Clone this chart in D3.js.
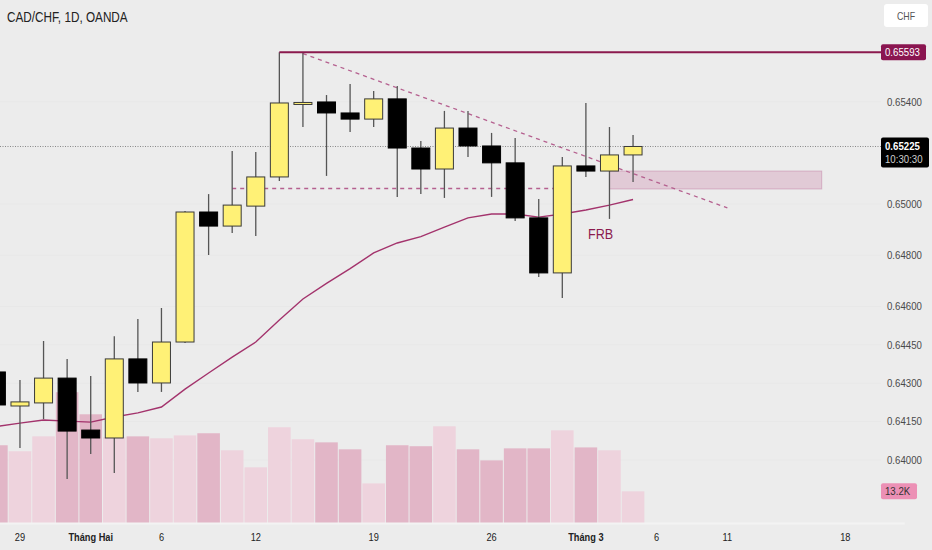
<!DOCTYPE html>
<html>
<head>
<meta charset="utf-8">
<script src="https://cdn.jsdelivr.net/npm/d3@7"></script>
<style>
  html, body { margin: 0; padding: 0; background: #ececec; }
  svg { display: block; font-family: "Liberation Sans", Arial, sans-serif; }
</style>
</head>
<body>
<svg id="chart"></svg>
<script>
const width = 932;
const height = 550;

// trading days shown (Jan 26 -> Mar 5, 2024)
const dates = [
  "2024-01-26", "2024-01-29", "2024-01-30", "2024-01-31", "2024-02-01", "2024-02-02",
  "2024-02-05", "2024-02-06", "2024-02-07", "2024-02-08", "2024-02-09",
  "2024-02-12", "2024-02-13", "2024-02-14", "2024-02-15", "2024-02-16",
  "2024-02-19", "2024-02-20", "2024-02-21", "2024-02-22", "2024-02-23",
  "2024-02-26", "2024-02-27", "2024-02-28", "2024-02-29", "2024-03-01",
  "2024-03-04", "2024-03-05"
];
// empty space to the right of the last bar
const futureDates = [
  "2024-03-06", "2024-03-07", "2024-03-08", "2024-03-11", "2024-03-12", "2024-03-13",
  "2024-03-14", "2024-03-15", "2024-03-18", "2024-03-19", "2024-03-20"
];

const opens  = [0.64344, 0.64211, 0.64223, 0.64320, 0.64117, 0.64086, 0.64395, 0.64301, 0.64461, 0.64969, 0.64914,
                0.64992, 0.65106, 0.65393, 0.65399, 0.65356, 0.65332, 0.65411, 0.65219, 0.65137, 0.65297,
                0.65227, 0.65161, 0.64946, 0.64731, 0.65149, 0.65129, 0.65192];
const highs  = [0.64383, 0.64313, 0.64465, 0.64395, 0.64328, 0.64484, 0.64551, 0.64594, 0.64973, 0.65039, 0.65207,
                0.65203, 0.65593, 0.65593, 0.65426, 0.65469, 0.65442, 0.65461, 0.65246, 0.65364, 0.65364,
                0.65278, 0.65258, 0.65020, 0.65184, 0.65395, 0.65301, 0.65270];
const lows   = [0.64187, 0.64047, 0.64160, 0.63926, 0.64023, 0.63949, 0.64266, 0.64266, 0.64457, 0.64801, 0.64887,
                0.64875, 0.65090, 0.65301, 0.65110, 0.65282, 0.65301, 0.65028, 0.65039, 0.65024, 0.65184,
                0.65028, 0.64934, 0.64715, 0.64633, 0.65106, 0.64942, 0.65086];
const closes = [0.64215, 0.64227, 0.64320, 0.64113, 0.64086, 0.64395, 0.64301, 0.64461, 0.64969, 0.64914, 0.64996,
                0.65106, 0.65395, 0.65397, 0.65356, 0.65332, 0.65411, 0.65219, 0.65137, 0.65297, 0.65227,
                0.65161, 0.64946, 0.64731, 0.65149, 0.65129, 0.65192, 0.65225];
// volume in thousands
const volumes = [32.4, 29.9, 36.1, 54.5, 45.3, 35.7, 36.1, 35.3, 36.5, 37.4, 30.3,
                 23.2, 39.9, 34.9, 33.6, 30.7, 16.5, 32.4, 32.0, 40.3, 30.7,
                 26.1, 31.1, 31.1, 38.6, 31.5, 30.3, 13.2];
// moving average line
const maValues = [0.64131, 0.64144, 0.64156, 0.64152, 0.64148, 0.64168, 0.64184, 0.64207, 0.64277, 0.64340, 0.64402,
                  0.64461, 0.64547, 0.64629, 0.64690, 0.64748, 0.64809, 0.64848, 0.64873, 0.64910, 0.64946,
                  0.64961, 0.64961, 0.64949, 0.64961, 0.64977, 0.64996, 0.65018];

const priceTicks = [0.654, 0.650, 0.648, 0.646, 0.6445, 0.643, 0.6415, 0.640];
const tickDates  = ["2024-01-29", "2024-02-01", "2024-02-06", "2024-02-12", "2024-02-19",
                    "2024-02-26", "2024-03-01", "2024-03-06", "2024-03-11", "2024-03-18"];
const tickLabels = ["29", "Tháng Hai", "6", "12", "19", "26", "Tháng 3", "6", "11", "18"];
const monthTicks = ["Tháng Hai", "Tháng 3"];

const resistance = 0.65593;
const lastPrice = 0.65225;
const lastTime = "10:30:30";
const lastVolume = "13.2K";
const supportLevel = 0.65061;
const trendStart = { date: "2024-02-14", price: 0.65588 };
const trendEnd   = { date: "2024-03-11", price: 0.64985 };
const zone = { from: "2024-03-04", to: "2024-03-15", top: 0.65129, bottom: 0.65059 };

const candles = dates.map((d, i) => ({
  date: d, open: opens[i], high: highs[i], low: lows[i], close: closes[i],
  volume: volumes[i], ma: maValues[i]
}));

const plotRight = 881;
const plotBottom = 523;
const narrow = 0.84; // the reference text is a narrow face

const svg = d3.select("#chart")
    .attr("width", width)
    .attr("height", height);

svg.append("rect").attr("width", width).attr("height", height).attr("fill", "#ececec");

const x = d3.scaleBand()
    .domain(dates.concat(futureDates))
    .range([-15.4, -15.4 + 23.58 * (dates.length + futureDates.length)])
    .paddingInner(0);
const cx = d => x(d) + x.bandwidth() / 2;

const y = d3.scaleLinear().domain([0.640, 0.654]).range([460, 101.7]);
const yVol = d3.scaleLinear().domain([0, 60]).range([plotBottom, plotBottom - 144]);

// text squeezed horizontally around its anchor point
function label(px, py, str, size, fill, anchor) {
  return svg.append("text")
      .attr("transform", `translate(${px},${py}) scale(${narrow},1)`)
      .attr("text-anchor", anchor || "start")
      .attr("font-size", size)
      .attr("fill", fill)
      .text(str);
}

svg.append("defs").append("clipPath").attr("id", "plot")
  .append("rect").attr("x", 0).attr("y", 0).attr("width", plotRight).attr("height", plotBottom);

// faint grid
svg.append("g")
  .selectAll("line")
  .data(priceTicks)
  .enter().append("line")
    .attr("x1", 0).attr("x2", plotRight)
    .attr("y1", d => y(d)).attr("y2", d => y(d))
    .attr("stroke", "#e8e8e8").attr("stroke-width", 1);

const plot = svg.append("g").attr("clip-path", "url(#plot)");

// volume
plot.append("g")
  .selectAll("rect")
  .data(candles)
  .enter().append("rect")
    .attr("x", d => x(d.date) + 0.5)
    .attr("width", x.bandwidth() - 1)
    .attr("y", d => yVol(d.volume))
    .attr("height", d => plotBottom - yVol(d.volume))
    .attr("fill", d => d.close >= d.open ? "#eed3dd" : "#e2b6c7");

// supply/demand zone
plot.append("rect")
    .attr("x", cx(zone.from))
    .attr("width", cx(zone.to) - cx(zone.from))
    .attr("y", y(zone.top))
    .attr("height", y(zone.bottom) - y(zone.top))
    .attr("fill", "rgba(205,140,175,0.35)")
    .attr("stroke", "rgba(190,120,160,0.45)");

// dashed level
plot.append("line")
    .attr("x1", cx("2024-02-09")).attr("x2", cx("2024-02-29"))
    .attr("y1", y(supportLevel)).attr("y2", y(supportLevel))
    .attr("stroke", "#b5608f").attr("stroke-width", 1.5)
    .attr("stroke-dasharray", "4,4");

// dashed trend line
plot.append("line")
    .attr("x1", cx(trendStart.date)).attr("y1", y(trendStart.price))
    .attr("x2", cx(trendEnd.date)).attr("y2", y(trendEnd.price))
    .attr("stroke", "#b5608f").attr("stroke-width", 1.3)
    .attr("stroke-dasharray", "4,4");

// last price dotted line
plot.append("line")
    .attr("x1", 0).attr("x2", plotRight)
    .attr("y1", y(lastPrice)).attr("y2", y(lastPrice))
    .attr("stroke", "#888").attr("stroke-width", 1)
    .attr("stroke-dasharray", "1,1.5");

// moving average
const maLine = d3.line().x(d => cx(d.date)).y(d => y(d.ma));
plot.append("path")
    .datum(candles)
    .attr("d", maLine)
    .attr("fill", "none")
    .attr("stroke", "#a3336c")
    .attr("stroke-width", 1.4);

// candles
const candle = plot.append("g")
  .selectAll("g")
  .data(candles)
  .enter().append("g");

candle.append("line")
    .attr("x1", d => cx(d.date)).attr("x2", d => cx(d.date))
    .attr("y1", d => y(d.high)).attr("y2", d => y(d.low))
    .attr("stroke", "#555").attr("stroke-width", 1.3);

candle.append("rect")
    .attr("x", d => cx(d.date) - 9)
    .attr("width", 18)
    .attr("y", d => y(Math.max(d.open, d.close)))
    .attr("height", d => Math.max(2, Math.abs(y(d.open) - y(d.close))))
    .attr("fill", d => d.close >= d.open ? "#fff176" : "#000")
    .attr("stroke", d => d.close >= d.open ? "#3a3a3a" : "#000")
    .attr("stroke-width", 1);

// resistance line
plot.append("line")
    .attr("x1", cx("2024-02-13")).attr("x2", plotRight)
    .attr("y1", y(resistance)).attr("y2", y(resistance))
    .attr("stroke", "#8b1a4e").attr("stroke-width", 2);

// FRB label
label(588, 239, "FRB", 15, "#8b1a4e");

// price axis
const yAxis = svg.append("g")
    .attr("transform", `translate(${plotRight},0)`)
    .call(d3.axisRight(y).tickValues(priceTicks).tickFormat(d3.format(".5f")).tickSize(0).tickPadding(6));
yAxis.select(".domain").remove();
yAxis.selectAll("text").attr("font-size", 10.5).attr("fill", "#4a4a4a")
    .attr("transform", `translate(6,0) scale(0.92,1) translate(-6,0)`);

// time axis
const xAxis = svg.append("g")
    .attr("transform", `translate(0,${plotBottom})`)
    .call(d3.axisBottom(x).tickValues(tickDates).tickFormat((d, i) => tickLabels[i]).tickSize(0).tickPadding(10));
xAxis.select(".domain").attr("stroke", "#f3f3f3").attr("stroke-width", 2);
xAxis.selectAll("text").attr("font-size", 11).attr("fill", "#222")
    .attr("transform", `scale(${narrow},1)`)
    .attr("font-weight", (d, i) => monthTicks.includes(tickLabels[i]) ? "bold" : "normal");

// axis labels (boxes)
const tag = (yc, h, w, fill) => svg.append("rect")
    .attr("x", plotRight).attr("y", yc - h / 2).attr("width", w).attr("height", h)
    .attr("rx", 2).attr("fill", fill);
const tagText = (py, str, fill, weight) => svg.append("text")
    .attr("transform", `translate(${plotRight + 4},${py}) scale(0.92,1)`)
    .attr("font-size", 10.5).attr("font-weight", weight || "normal").attr("fill", fill).text(str);

tag(y(resistance), 16, 45, "#8a1550");
tagText(y(resistance) + 4, d3.format(".5f")(resistance), "#fff");

tag(y(lastPrice) + 6, 30, 48, "#000");
tagText(y(lastPrice) + 4, d3.format(".5f")(lastPrice), "#fff", "bold");
tagText(y(lastPrice) + 17, lastTime, "#d0d0d0");

const lastVolY = yVol(volumes[volumes.length - 1]);
tag(lastVolY, 16, 36, "#ec90b5");
tagText(lastVolY + 4, lastVolume, "#333");

// currency button
svg.append("rect").attr("x", 884).attr("y", 4).attr("width", 44).attr("height", 23)
    .attr("rx", 3).attr("fill", "#fff");
label(906, 19.5, "CHF", 10.5, "#555", "middle");

// title
label(7, 22, "CAD/CHF, 1D, OANDA", 14, "#222");
</script>
</body>
</html>
